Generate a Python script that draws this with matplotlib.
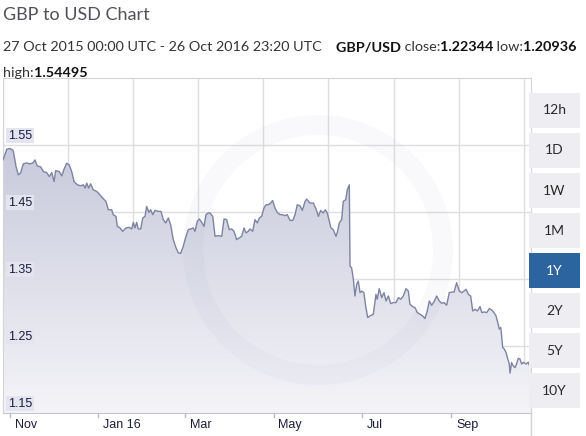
import matplotlib
matplotlib.use("Agg")
import matplotlib.pyplot as plt
import matplotlib.dates as mdates
import numpy as np
import pandas as pd
from matplotlib.colors import LinearSegmentedColormap
from matplotlib.patches import Rectangle, Annulus
from matplotlib.lines import Line2D
from matplotlib.transforms import IdentityTransform

# GBP/USD, 27 Oct 2015 - 26 Oct 2016 (days since start, rate)
start = pd.Timestamp("2015-10-27")
days = [0.0, 2.6, 4.8, 7.1, 9.0, 10.6, 12.2, 14.0, 16.4, 18.7, 20.7, 22.1, 23.7, 26.1,
        27.9, 30.2, 32.0, 33.7, 35.3, 36.4, 38.9, 40.6, 42.2, 44.0, 45.8, 47.5, 49.1,
        51.4, 53.7, 55.5, 56.7, 57.9, 59.2, 60.6, 62.4, 64.8, 66.6, 68.9, 71.2, 72.8,
        75.1, 76.2, 78.1, 79.0, 80.9, 82.7, 85.0, 87.3, 89.0, 90.1, 91.2, 92.4, 93.5,
        95.2, 96.6, 98.2, 99.3, 100.9, 102.1, 103.5, 105.1, 107.4, 109.2, 110.8, 112.5,
        114.3, 115.9, 117.7, 119.6, 121.2, 122.8, 124.6, 126.5, 128.1, 129.8, 131.5,
        132.7, 134.3, 135.7, 137.4, 139.0, 140.3, 141.9, 143.1, 145.0, 146.6, 148.8,
        151.2, 152.8, 154.6, 156.4, 158.1, 159.7, 161.5, 163.3, 165.0, 166.6, 168.0,
        169.6, 170.7, 172.6, 174.2, 175.8, 177.2, 178.8, 180.4, 181.8, 183.4, 185.1,
        186.4, 188.0, 189.6, 191.5, 193.3, 194.9, 196.5, 198.4, 200.3, 201.9, 203.4,
        205.3, 206.9, 208.8, 209.9, 212.2, 214.5, 216.4, 218.0, 219.6, 221.4, 222.8,
        224.2, 225.6, 226.7, 228.3, 230.2, 231.1, 232.5, 234.1, 235.2, 236.9, 238.0,
        239.4, 239.9, 241.0, 242.2, 243.3, 244.5, 245.6, 246.8, 248.0, 249.5, 250.7,
        252.1, 253.7, 256.0, 257.8, 258.7, 260.1, 261.8, 263.4, 264.8, 266.4, 268.0,
        269.8, 271.7, 273.3, 274.9, 276.7, 278.6, 280.2, 281.3, 283.2, 284.8, 286.4,
        288.3, 290.1, 291.7, 293.3, 294.7, 296.3, 297.9, 299.8, 301.6, 303.3, 304.8,
        306.7, 308.5, 310.2, 311.8, 313.6, 315.4, 317.1, 318.7, 320.1, 321.7, 323.3,
        324.7, 326.3, 327.9, 329.8, 331.0, 332.7, 334.4, 336.2, 337.8, 339.4, 340.8,
        342.0, 343.1, 344.1, 344.7, 345.4, 346.5, 347.7, 348.6, 350.0, 350.5, 351.6,
        352.7, 353.9, 355.0, 356.2, 357.4, 358.5, 359.7, 361.5, 363.1, 364.4, 365.0]
rates = [1.5277, 1.5436, 1.5450, 1.5415, 1.5178, 1.5054, 1.5084, 1.5218, 1.5233, 1.5218,
         1.5233, 1.5277, 1.5188, 1.5173, 1.5103, 1.5088, 1.5029, 1.5088, 1.4955, 1.5118,
         1.5103, 1.5039, 1.5139, 1.5228, 1.5203, 1.5103, 1.4955, 1.4906, 1.4891, 1.4906,
         1.4857, 1.4931, 1.4857, 1.4920, 1.4831, 1.4806, 1.4767, 1.4707, 1.4657, 1.4534,
         1.4534, 1.4460, 1.4435, 1.4286, 1.4262, 1.4212, 1.4262, 1.4271, 1.4247, 1.4345,
         1.4262, 1.4345, 1.4247, 1.4247, 1.4411, 1.4435, 1.4583, 1.4494, 1.4534, 1.4460,
         1.4524, 1.4509, 1.4509, 1.4386, 1.4337, 1.4411, 1.4311, 1.4088, 1.3965, 1.3891,
         1.3880, 1.3989, 1.4137, 1.4237, 1.4247, 1.4262, 1.4212, 1.4360, 1.4396, 1.4345,
         1.4286, 1.4460, 1.4485, 1.4485, 1.4435, 1.4137, 1.4148, 1.4137, 1.4396, 1.4386,
         1.4237, 1.4247, 1.4212, 1.4088, 1.4114, 1.4137, 1.4262, 1.4188, 1.4212, 1.4247,
         1.4212, 1.4386, 1.4337, 1.4411, 1.4435, 1.4559, 1.4608, 1.4608, 1.4634, 1.4672,
         1.4559, 1.4494, 1.4460, 1.4460, 1.4445, 1.4460, 1.4375, 1.4375, 1.4460, 1.4608,
         1.4594, 1.4524, 1.4658, 1.4693, 1.4634, 1.4634, 1.4545, 1.4435, 1.4524, 1.4485,
         1.4534, 1.4485, 1.4360, 1.4262, 1.4237, 1.4137, 1.4197, 1.4337, 1.4386, 1.4658,
         1.4683, 1.4831, 1.4906, 1.3692, 1.3668, 1.3494, 1.3246, 1.3420, 1.3469, 1.3296,
         1.3320, 1.3296, 1.3097, 1.2925, 1.2949, 1.2974, 1.3271, 1.3197, 1.3356, 1.3222,
         1.3296, 1.3172, 1.3246, 1.3133, 1.3148, 1.3148, 1.3222, 1.3197, 1.3246, 1.3356,
         1.3320, 1.3123, 1.3088, 1.3073, 1.2999, 1.2974, 1.2949, 1.2910, 1.3023, 1.3172,
         1.3108, 1.3157, 1.3246, 1.3172, 1.3137, 1.3148, 1.3108, 1.3296, 1.3305, 1.3305,
         1.3445, 1.3320, 1.3296, 1.3320, 1.3345, 1.3271, 1.3246, 1.3023, 1.3048, 1.3023,
         1.3088, 1.2999, 1.3008, 1.2999, 1.3059, 1.3038, 1.2999, 1.2949, 1.2851, 1.2751,
         1.2776, 1.2652, 1.2479, 1.2454, 1.2405, 1.2331, 1.2231, 1.2094, 1.2252, 1.2203,
         1.2177, 1.2231, 1.2316, 1.2306, 1.2231, 1.2256, 1.2231, 1.2256, 1.2182, 1.2234]

ytick_vals = [1.15, 1.25, 1.35, 1.45, 1.55]
xtick_dates = ["2015-11-01", "2016-01-01", "2016-03-01", "2016-05-01", "2016-07-01", "2016-09-01"]
xtick_labels = ["Nov", "Jan 16", "Mar", "May", "Jul", "Sep"]
ranges = ["12h", "1D", "1W", "1M", "1Y", "2Y", "5Y", "10Y"]
selected = "1Y"

W, H = 586, 436
fig = plt.figure(figsize=(W / 100, H / 100), dpi=100)
fig.patch.set_facecolor("white")


def fx(px):
    return px / W


def fy(py):
    return 1 - py / H


ax = fig.add_axes([fx(3), fy(413), fx(531) - fx(3), fy(78) - fy(413)])
x = mdates.date2num((start + pd.to_timedelta(days, unit="D")).to_pydatetime())
x0 = mdates.date2num(start.to_pydatetime())
x1 = mdates.date2num((start + pd.Timedelta(days=365)).to_pydatetime())
ymin, ymax = 1.15, 1.65

# gradient area under the line
poly = ax.fill_between(x, rates, ymin, facecolor="none", edgecolor="none")
cmap = LinearSegmentedColormap.from_list("fill", ["#f4f4f8", "#bcbfd4"])
grad = np.linspace(0, 1, 256).reshape(-1, 1)
im = ax.imshow(grad, extent=[x0, x1, ymin, ymax], origin="lower", aspect="auto",
               cmap=cmap, zorder=1)
im.set_clip_path(poly.get_paths()[0], transform=ax.transData)
ax.plot(x, rates, color="#7d84a3", lw=1.0, zorder=3)

ax.set_xlim(x0, x1)
ax.set_ylim(ymin, ymax)

# faint watermark ring
ax.add_patch(Annulus((318, H - 250), 135, 20, transform=IdentityTransform(),
                     facecolor="#6a6fa0", alpha=0.035, edgecolor="none", zorder=2))

# grid
for k in range(0, 361, 45):
    ax.axvline(x0 + k, color="#dedede", lw=1, zorder=0.5)
for v in ytick_vals[1:]:
    ax.axhline(v, color="#dedede", lw=1, zorder=0.5)

for side in ["top", "right", "left"]:
    ax.spines[side].set_color("#d4d4d4")
ax.spines["bottom"].set_color("#c4c4d4")
ax.set_xticks([])
ax.set_yticks([])

# y labels inside the plot
for v in ytick_vals:
    ax.annotate(f"{v:.2f}", xy=(0, v), xycoords=("axes fraction", "data"),
                xytext=(3.3, 2.5), textcoords="offset points", ha="left", va="bottom",
                fontsize=9, family="Liberation Sans", color="#1c1c44", zorder=5,
                bbox=dict(boxstyle="square,pad=0.15", facecolor="#e4e4ef", edgecolor="none"))

# x labels with small ticks
for d, lab in zip(xtick_dates, xtick_labels):
    xv = mdates.date2num(pd.Timestamp(d).to_pydatetime())
    ax.plot([xv, xv], [0, -0.012], transform=ax.get_xaxis_transform(), color="#b8b8c8",
            lw=1, clip_on=False)
    ax.annotate(lab, xy=(xv, 0), xycoords=("data", "axes fraction"), xytext=(3.5, -4),
                textcoords="offset points", ha="left", va="top", fontsize=9,
                family="Liberation Sans", color="#1c1c3c")

fig.add_artist(Line2D([fx(531), fx(531)], [fy(413), fy(436)], color="#d4d4d4", lw=1))

# range buttons
for i, r in enumerate(ranges):
    top = 93 + 40 * i
    sel = r == selected
    fig.add_artist(Rectangle((fx(529), fy(top + 35)), fx(580) - fx(529), fy(top) - fy(top + 35),
                             facecolor="#2c64a0" if sel else "#eeeef2", edgecolor="none"))
    fig.text(fx(554.5), fy(top + 17.5), r, ha="center", va="center", fontsize=10,
             family="Lato", color="white" if sel else "#2a2a2a")

# header
fig.text(fx(3), fy(15), "GBP to USD Chart", fontsize=13, family="Lato", fontweight="normal",
         color="#505058", va="center", ha="left")

renderer = fig.canvas.get_renderer()


def text_run(x_px, y_px, parts, size=10.4):
    for s, bold in parts:
        t = fig.text(fx(x_px), fy(y_px), s, fontsize=size, family="Lato",
                     fontweight="bold" if bold else "normal",
                     color="#111111" if bold else "#333333", va="center", ha="left")
        x_px += t.get_window_extent(renderer).width


text_run(3, 47, [("27 Oct 2015 00:00 UTC - 26 Oct 2016 23:20 UTC", False),
                 ("    GBP/USD", True), (" close:", False), ("1.22344", True),
                 (" low:", False), ("1.20936", True)])
text_run(3, 73, [("high:", False), ("1.54495", True)])

fig.savefig("out.png", dpi=100)
